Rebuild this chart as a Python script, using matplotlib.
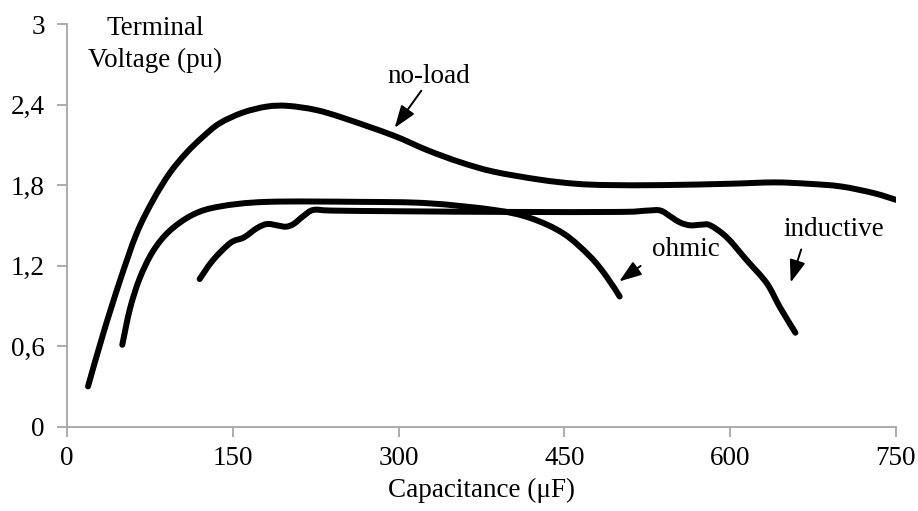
import matplotlib as mpl
from matplotlib import pyplot as plt
from matplotlib.path import Path
from matplotlib.patches import PathPatch
from matplotlib.ticker import FuncFormatter

mpl.rcParams["font.family"] = "Liberation Serif"
mpl.rcParams["font.size"] = 19.5

# capacitance (uF) / terminal voltage (pu)
noload_x = [19, 33, 48, 63, 78, 93, 108, 123, 138, 159, 181, 200, 225, 250, 295, 326,
            356, 386, 428, 460, 490, 540, 600, 640, 670, 700, 730, 750]
noload_y = [0.30, 0.70, 1.09, 1.44, 1.69, 1.89, 2.04, 2.16, 2.26, 2.34, 2.385, 2.39, 2.36, 2.30, 2.17, 2.06,
            1.97, 1.90, 1.84, 1.81, 1.80, 1.80, 1.81, 1.82, 1.81, 1.79, 1.74, 1.69]

ohmic_x = [50, 57, 66, 78, 93, 114, 138, 181, 265, 326, 386, 419, 449, 473, 488, 500]
ohmic_y = [0.61, 0.88, 1.11, 1.31, 1.46, 1.58, 1.64, 1.675, 1.675, 1.665, 1.615, 1.555, 1.44,
           1.27, 1.12, 0.97]

induct_x = [120, 132, 148, 160, 172, 181, 190, 198, 205, 214, 223, 240, 300, 400, 500,
            525, 537, 547, 555, 564, 574, 582, 597, 615, 633, 645, 659]
induct_y = [1.10, 1.24, 1.37, 1.41, 1.48, 1.51, 1.50, 1.49, 1.51, 1.57, 1.615, 1.61, 1.605, 1.60, 1.60,
            1.61, 1.61, 1.56, 1.52, 1.50, 1.505, 1.50, 1.41, 1.24, 1.07, 0.89, 0.70]

xticks = [0, 150, 300, 450, 600, 750]
yticks = [0, 0.6, 1.2, 1.8, 2.4, 3]


def smooth_path(xs, ys):
    # excel-style smoothed line: bezier segments through every point
    pts = list(zip(xs, ys))
    verts = [pts[0]]
    codes = [Path.MOVETO]
    n = len(pts)
    for i in range(n - 1):
        p0 = pts[max(i - 1, 0)]
        p1 = pts[i]
        p2 = pts[i + 1]
        p3 = pts[min(i + 2, n - 1)]
        c1 = (p1[0] + (p2[0] - p0[0]) / 6, p1[1] + (p2[1] - p0[1]) / 6)
        c2 = (p2[0] - (p3[0] - p1[0]) / 6, p2[1] - (p3[1] - p1[1]) / 6)
        verts += [c1, c2, p2]
        codes += [Path.CURVE4] * 3
    return Path(verts, codes)


fig = plt.figure(figsize=(9.18, 5.11), dpi=100)
ax = fig.add_axes([0.073, 0.165, 0.903, 0.788])

for xs, ys in [(noload_x, noload_y), (ohmic_x, ohmic_y), (induct_x, induct_y)]:
    ax.add_patch(PathPatch(smooth_path(xs, ys), fill=False, edgecolor="black", lw=4.3,
                           capstyle="round", joinstyle="round"))

ax.set_xlim(0, 750)
ax.set_ylim(0, 3)
ax.set_xticks(xticks)
ax.set_yticks(yticks)
ax.yaxis.set_major_formatter(FuncFormatter(lambda v, p: ("%g" % v).replace(".", ",")))

for s in ["top", "right"]:
    ax.spines[s].set_visible(False)
for s in ["left", "bottom"]:
    ax.spines[s].set_color("#a6a6a6")
    ax.spines[s].set_linewidth(1.3)
ax.tick_params(axis="both", direction="out", length=7, width=1.3, color="#a6a6a6")
ax.tick_params(axis="x", pad=7)
ax.tick_params(axis="y", pad=9)

ax.set_xlabel("Capacitance (\u03bcF)", labelpad=5)
ax.text(80, 2.97, "Terminal", ha="center", va="center", clip_on=False)
ax.text(80, 2.73, "Voltage (pu)", ha="center", va="center", clip_on=False)

arrow = dict(arrowstyle="-|>,head_length=0.7,head_width=0.25", color="black", lw=1.4)
ax.annotate("no-load", xy=(295, 2.21), xytext=(327.5, 2.61), ha="center", va="center")
ax.annotate("", xy=(295, 2.21), xytext=(322, 2.52), arrowprops=arrow)
ax.annotate("ohmic", xy=(497.6, 1.07), xytext=(560, 1.32), ha="center", va="center")
ax.annotate("", xy=(497.6, 1.07), xytext=(521, 1.21), arrowprops=arrow)
ax.annotate("inductive", xy=(654, 1.055), xytext=(694, 1.47), ha="center", va="center")
ax.annotate("", xy=(654, 1.055), xytext=(665, 1.34), arrowprops=arrow)

fig.savefig("out.png", dpi=100)
